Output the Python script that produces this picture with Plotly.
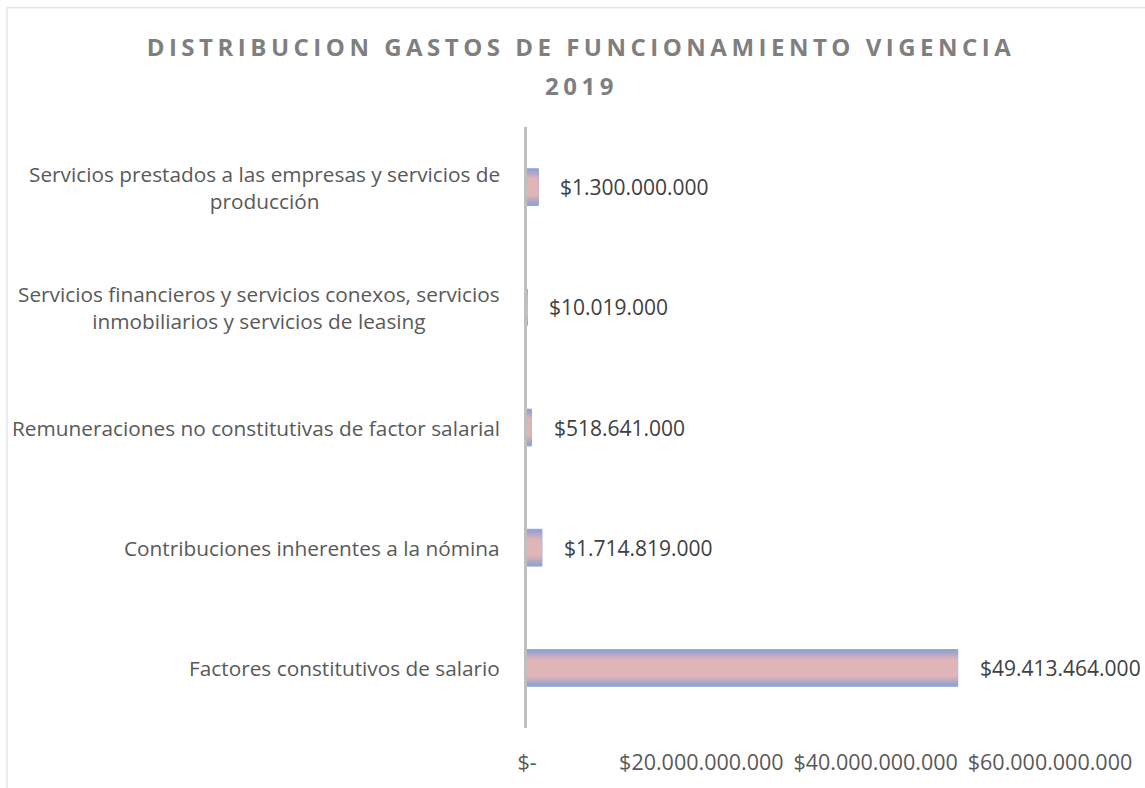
import plotly.graph_objects as go

# ---- data ----
categories = [
    "Factores constitutivos de salario",
    "Contribuciones inherentes a la nómina",
    "Remuneraciones no constitutivas de factor salarial",
    "Servicios financieros y servicios conexos, servicios<br>inmobiliarios y servicios de leasing",
    "Servicios prestados a las empresas y servicios de<br>producción",
]
values = [49413464000, 1714819000, 518641000, 10019000, 1300000000]
tick_values = [0, 20e9, 40e9, 60e9]
tick_labels = ["$-", "$20.000.000.000", "$40.000.000.000", "$60.000.000.000"]
title_line1 = "DISTRIBUCION GASTOS DE FUNCIONAMIENTO VIGENCIA"
title_line2 = "2019"

W, H = 1145, 788
ML, MR, MT, MB = 527, 95, 127, 56
PW, PH = W - ML - MR, H - MT - MB


def fmt(v):
    return "$" + f"{v:,.0f}".replace(",", ".")


def px_x(p):
    return (p - ML) / PW


def px_y(p):
    return (H - MB - p) / PH


FONT = "Open Sans"
fig = go.Figure()

# layered bars to imitate the gradient fill (blue edges -> pink centre)
edge = (0x90, 0xA0, 0xD0)
centre = (0xE1, 0xB4, 0xB6)
n_layers = 9
for i in range(n_layers):
    t = i / (n_layers - 1)
    w = 0.306 - t * (0.306 - 0.11)
    tt = min(1.0, t * 1.25)
    col = "#%02x%02x%02x" % tuple(int(round(e + (c - e) * tt)) for e, c in zip(edge, centre))
    ln = dict(color="#8eaadb", width=1) if i == 0 else dict(width=0)
    fig.add_trace(go.Bar(
        y=categories, x=values, orientation="h", width=w,
        marker=dict(color=col, line=ln), hoverinfo="skip", showlegend=False,
    ))

annotations = []
for cat, v in zip(categories, values):
    annotations.append(dict(
        x=0, xref="paper", y=cat, yref="y", text=cat, showarrow=False,
        xanchor="right", xshift=-25, align="center",
        font=dict(family=FONT, size=20.8, color="#595959"),
    ))
    annotations.append(dict(
        x=v, xref="x", y=cat, yref="y", text=fmt(v), showarrow=False,
        xanchor="left", xshift=20,
        font=dict(family=FONT, size=21, color="#404040"),
    ))

annotations.append(dict(
    x=px_x(581), xref="paper", y=px_y(85), yref="paper",
    text=title_line2, showarrow=False, xanchor="center", yanchor="middle",
    font=dict(family=FONT, size=24, color="#7f7f7f", weight="bold"),
))

fig.update_layout(
    width=W, height=H,
    margin=dict(l=ML, r=MR, t=MT, b=MB),
    paper_bgcolor="white", plot_bgcolor="white",
    barmode="overlay",
    title=dict(
        text=title_line1, x=581 / W, xanchor="center", xref="container",
        y=1 - 48 / H, yanchor="middle", yref="container",
        font=dict(family=FONT, size=24, color="#7f7f7f", weight="bold"),
    ),
    xaxis=dict(
        range=[0, 60e9], tickvals=tick_values, ticktext=tick_labels,
        showgrid=False, zeroline=False, showline=False, ticks="",
        ticklabelstandoff=19,
        tickfont=dict(family=FONT, size=21.5, color="#595959"),
        fixedrange=True,
    ),
    yaxis=dict(
        categoryorder="array", categoryarray=categories,
        range=[-0.5, 4.5], showticklabels=False, showgrid=False,
        zeroline=False, showline=True, linecolor="#bfbfbf", linewidth=3,
        ticks="", fixedrange=True,
    ),
    annotations=annotations,
    shapes=[dict(
        type="rect", xref="paper", yref="paper",
        x0=px_x(7), x1=px_x(1160), y0=px_y(800), y1=px_y(7),
        line=dict(color="#d9d9d9", width=1), fillcolor="rgba(0,0,0,0)",
        layer="below",
    )],
)

post = """
document.querySelectorAll('.gtitle').forEach(function(e){e.style.letterSpacing='4.5px';});
document.querySelectorAll('.annotation-text').forEach(function(e){
  if (e.textContent.trim()==='2019') { e.style.letterSpacing='4.5px'; }
});
"""
fig.write_html("out.html", post_script=post, config={"displayModeBar": False})
